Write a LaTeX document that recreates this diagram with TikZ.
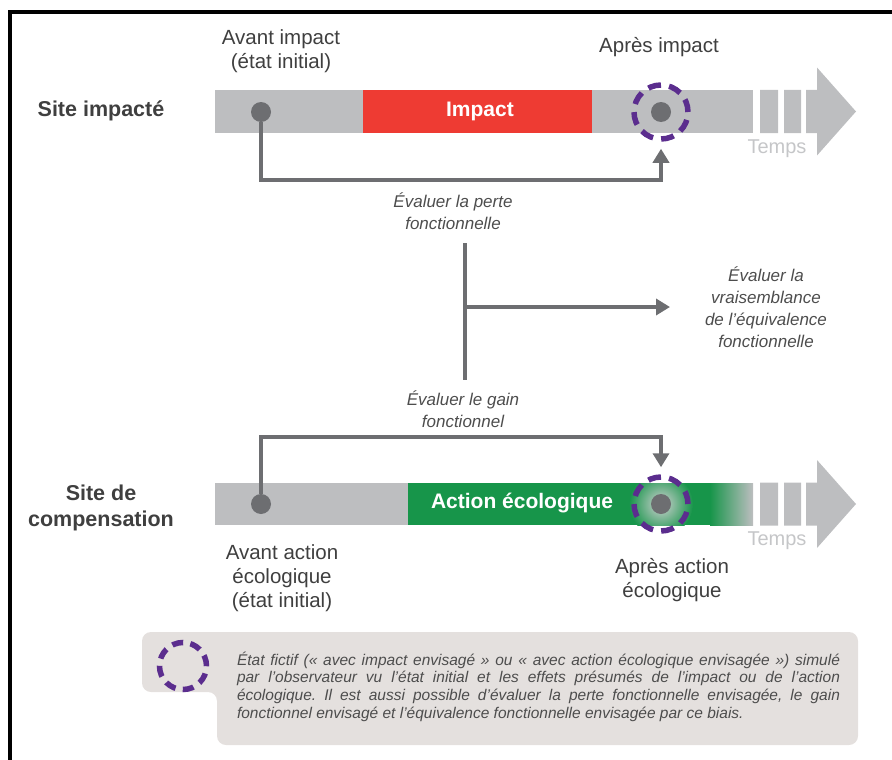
\documentclass[tikz,border=0pt]{standalone}
\usepackage{fontspec}
\setmainfont{Liberation Sans}
\usetikzlibrary{arrows.meta}
\definecolor{bargray}{HTML}{BDBEC0}
\definecolor{dotgray}{HTML}{6D6E71}
\definecolor{impactred}{HTML}{EE3B33}
\definecolor{ecogreen}{HTML}{17954A}
\definecolor{fictif}{HTML}{5B2D8E}
\definecolor{txtgray}{HTML}{3F3F3F}
\definecolor{itgray}{HTML}{4D4D4D}
\definecolor{tempsgray}{HTML}{C5C6C8}
\definecolor{legendbg}{HTML}{E4E0DE}
\tikzset{
 lbl/.style={text=txtgray,align=center,font=\fontsize{20.5}{24}\selectfont},
 sitelbl/.style={text=txtgray,align=center,font=\bfseries\fontsize{21.5}{26}\selectfont},
 barlbl/.style={text=white,font=\bfseries\fontsize{21}{21}\selectfont},
 eval/.style={text=itgray,align=center,font=\itshape\fontsize{17}{22}\selectfont},
 conn/.style={dotgray,line width=3.5pt},
 connarrow/.style={conn,-{Triangle[length=14pt,width=16pt]}},
 dot/.style={circle,fill=dotgray,inner sep=0pt,minimum size=20pt},
 fictifring/.style={circle,draw=fictif,line width=5.5pt,dash pattern=on 13pt off 8.2pt,inner sep=0pt,minimum size=54pt},
}
\frenchspacing
\begin{document}
\begin{tikzpicture}[x=1pt,y=-1pt]
\useasboundingbox (0,0) rectangle (892,760);
\draw[line width=4pt](10,760)--(10,12)--(892,12);
%bars
\fill[bargray](215,90)rectangle(753,133);
\fill[impactred](363,90)rectangle(592,133);
\fill[bargray](215,483)rectangle(753,525);
\fill[ecogreen](408,483)rectangle(711,525);
\shade[left color=ecogreen,right color=bargray](710,483)rectangle(753,525);
\begin{scope}
\clip(408,483)rectangle(753,525);
\shade[inner color=bargray!70!white,outer color=ecogreen](661,504)circle(32pt);
\end{scope}
%time arrows
\foreach \y/\r in {111.5/a,504/b}{
 \fill[bargray](760,\y-21.5)rectangle(778,\y+21.5)(784,\y-21.5)rectangle(801,\y+21.5);
 \fill[bargray](806,\y-21.5)--(817,\y-21.5)--(817,\y-44)--(856,\y)--(817,\y+44)--(817,\y+21.5)--(806,\y+21.5)--cycle;
 \node[text=tempsgray,font=\fontsize{20}{20}\selectfont](temps\r) at (777,\y+37){Temps};
}
%states
\node[dot](d1) at (261,112){};
\node[dot](d2) at (661,112){};
\node[fictifring](f2) at (d2){};
\node[dot](d3) at (261,504){};
\node[dot](d4) at (661,504){};
\node[fictifring](f4) at (d4){};
%labels
\node[sitelbl](s1) at (101,111){Site impacté};
\node[sitelbl](s2) at (101,508){Site de\\compensation};
\node[barlbl](imp) at (480,111){Impact};
\node[barlbl](act) at (522,503){Action écologique};
\node[lbl](avant1) at (281,51){Avant impact\\(état initial)};
\node[lbl](apres1) at (659,47){Après impact};
\node[lbl](avant2) at (282,578){Avant action\\écologique\\(état initial)};
\node[lbl](apres2) at (672,580){Après action\\écologique};
%evaluations
\draw[connarrow,shorten >=7pt](d1.south)--(d1.center|-0,180)-|(f2.south);
\draw[connarrow,shorten >=7pt](d3.north)--(d3.center|-0,437)-|(f4.north);
\node[eval](perte) at (453,211){Évaluer la perte\\fonctionnelle};
\node[eval](gain) at (463,409){Évaluer le gain\\fonctionnel};
\node[eval](equiv) at (766,307){Évaluer la\\vraisemblance\\de l’équivalence\\fonctionnelle};
\coordinate(vtop) at (465,243);
\coordinate(vbot) at (465,380);
\coordinate(fork) at (465,307);
\coordinate(eqtip) at (670,307);
\draw[conn](vtop)--(vbot);
\draw[connarrow](fork)--(eqtip);
%legend
\fill[legendbg,rounded corners=9pt](142,632)--(858,632)--(858,745)--(217,745)--(217,692)--(142,692)--cycle;
\node[fictifring,minimum size=47pt,dash pattern=on 11pt off 7.4pt](legring) at (183,666){};
\node[text=itgray,font=\itshape\fontsize{15.5}{17.7}\selectfont,text width=603pt,align=justify,inner sep=0pt](legtxt) at (538.5,686.5){État fictif («~avec impact envisagé~» ou «~avec action écologique envisagée~») simulé\linebreak par l’observateur vu l’état initial et les effets présumés de l’impact ou de l’action\linebreak écologique. Il est aussi possible d’évaluer la perte fonctionnelle envisagée, le gain\linebreak fonctionnel envisagé et l’équivalence fonctionnelle envisagée par ce biais.};
\end{tikzpicture}
\end{document}
